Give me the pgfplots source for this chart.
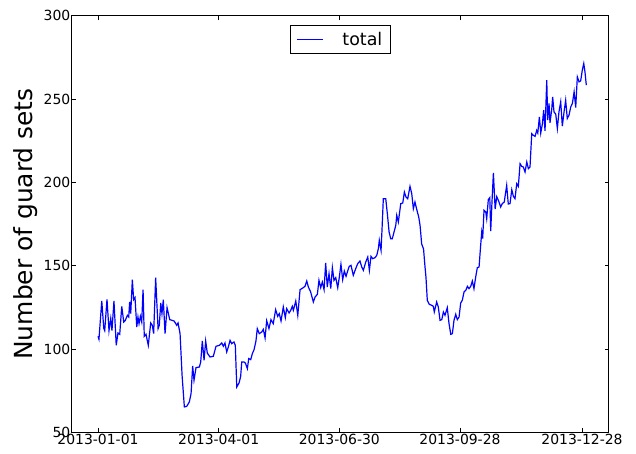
\documentclass[border=0pt]{standalone}
\usepackage{fontspec}
\setmainfont{DejaVu Sans}
\usepackage{pgfplots}
\usepackage{pgfplotstable}
\pgfplotsset{compat=1.18}

% day index (0 = 2013-01-01), number of guard sets
\pgfplotstableread{
day total
0.0 107.6
0.7 105.8
2.8 128.8
4.3 112.4
5.0 111.0
6.7 129.8
8.2 111.0
9.5 118.4
10.4 111.0
11.9 128.8
13.6 102.2
14.9 109.6
16.2 108.8
17.7 125.6
19.2 116.2
20.4 117.2
21.9 120.2
22.9 119.2
23.6 128.2
24.4 121.2
25.6 141.6
26.6 129.6
27.6 130.8
28.9 113.2
29.8 119.2
30.6 115.2
31.6 119.6
32.6 116.2
33.6 135.6
34.5 107.6
35.8 108.8
37.5 102.2
39.3 115.6
40.5 114.2
41.5 109.2
43.0 142.8
44.8 112.2
45.7 114.2
46.8 127.6
47.7 121.2
48.7 129.6
50.0 109.2
51.5 124.8
53.5 117.6
55.2 117.2
56.7 116.8
57.7 115.6
58.7 114.2
59.7 115.6
61.2 109.2
62.7 84.2
64.4 65.2
66.2 65.6
68.1 68.2
69.4 73.2
70.6 89.8
71.6 81.2
73.1 88.8
75.6 89.2
76.6 92.2
77.8 104.8
79.1 93.2
80.3 104.8
81.5 97.6
83.5 95.2
86.0 95.6
88.0 101.6
90.5 102.2
92.3 103.6
93.5 101.6
94.7 103.6
96.0 98.2
97.2 101.2
98.5 105.2
99.7 103.2
101.4 104.2
102.4 102.2
103.5 77.2
105.2 79.6
106.4 83.6
107.2 92.2
108.9 92.2
109.9 91.6
111.4 88.2
112.4 94.2
113.9 93.6
115.1 97.2
116.4 99.6
117.8 104.8
118.8 112.2
120.3 109.2
122.1 110.2
123.3 111.8
124.6 106.6
125.8 117.0
127.5 112.2
129.0 117.6
130.7 115.2
132.5 123.6
134.0 119.6
135.2 121.2
136.5 116.8
138.2 125.2
139.7 118.8
140.7 124.2
142.5 121.6
143.7 123.2
144.9 125.6
145.7 123.2
147.5 128.8
149.0 120.2
150.7 135.6
153.1 136.8
154.4 137.6
155.7 140.8
156.9 137.2
158.6 134.2
160.6 128.2
161.9 131.2
163.6 132.8
164.8 141.2
166.1 136.8
167.3 140.2
168.6 135.6
169.8 151.6
171.0 137.2
172.3 145.2
173.6 136.2
174.8 148.8
176.0 141.2
177.3 142.8
178.8 136.8
180.0 143.2
181.2 150.8
182.5 141.6
183.7 146.8
185.0 143.6
186.2 146.8
187.4 149.6
188.7 150.2
190.4 144.2
192.2 148.2
193.7 151.2
195.4 152.8
196.7 149.2
197.9 147.2
199.7 152.2
201.2 155.2
202.4 147.2
203.6 155.6
204.9 154.2
206.6 154.8
207.9 156.2
209.1 160.2
209.8 165.2
211.1 159.2
211.8 171.2
212.8 190.2
214.6 190.2
215.8 181.2
217.1 170.2
218.3 166.2
219.5 166.2
220.8 170.2
222.1 174.2
222.8 180.2
224.0 176.2
225.8 187.2
227.3 187.6
228.5 194.2
229.7 191.2
231.0 190.2
232.7 197.6
234.0 193.2
235.2 184.2
236.4 188.2
237.7 183.8
239.2 179.2
240.2 174.2
241.4 163.0
242.8 160.0
243.9 149.2
244.6 143.2
245.6 129.2
247.1 126.8
248.9 126.2
250.1 125.6
250.8 122.2
252.6 128.2
253.8 125.2
255.1 117.2
256.4 117.6
257.6 122.2
258.8 120.2
260.5 124.8
261.8 115.2
263.1 108.8
264.3 109.2
265.5 117.2
266.8 120.8
268.0 117.6
269.3 119.2
270.5 127.6
271.7 129.2
273.0 134.2
274.3 135.2
275.5 137.6
276.7 136.2
278.0 137.6
279.2 140.8
280.4 136.2
281.7 143.2
282.9 148.8
284.2 149.2
285.4 162.2
286.2 170.2
286.9 166.2
287.9 183.2
289.2 182.2
289.9 178.2
291.1 189.6
292.2 190.8
292.9 170.8
293.9 189.2
294.9 205.6
296.2 184.0
297.4 191.4
299.1 188.2
300.3 185.2
301.5 187.2
303.0 188.2
304.8 198.2
306.0 187.0
307.3 187.2
308.6 195.6
309.8 191.6
311.0 190.2
312.3 199.2
313.5 197.6
314.8 211.2
316.0 209.6
317.2 209.2
318.5 206.2
319.8 212.2
321.0 208.2
322.2 209.2
323.5 229.2
324.7 228.2
326.0 227.6
327.2 231.2
328.0 229.6
329.2 239.3
330.2 229.6
331.4 234.9
332.4 243.3
333.4 230.9
334.7 261.3
335.4 237.3
336.4 247.3
337.1 235.7
338.4 243.7
339.1 251.3
340.1 242.3
341.4 240.9
342.6 232.3
343.8 242.3
345.1 248.3
346.3 233.7
347.6 242.3
348.8 249.3
350.0 238.3
351.3 240.3
352.6 245.3
353.8 247.3
355.1 254.3
356.3 244.9
357.5 263.3
358.8 260.3
360.0 260.9
361.2 267.3
362.3 271.3
363.2 266.3
364.2 258.3
}\guardsets

\begin{document}
\begin{tikzpicture}
\useasboundingbox (-72bp,-21.7bp) rectangle (564bp,432.3bp);
\begin{axis}[
    scale only axis,
    width=536.7bp, height=416.6bp,
    xmin=-19.4, xmax=380.9,
    ymin=50, ymax=300,
    xtick={0,90,180,270,361},
    xticklabels={2013-01-01,2013-04-01,2013-06-30,2013-09-28,2013-12-28},
    ytick={50,100,150,200,250,300},
    tick align=inside,
    major tick length=4bp,
    minor tick num=0,
    axis line style={line width=1bp},
    every tick/.style={black, line width=0.8bp},
    tick label style={font=\fontsize{14}{16}\selectfont, inner sep=1.5bp},
    /pgf/number format/assume math mode=true,
    ylabel={Number of guard sets},
    ylabel style={at={(axis description cs:-0.0727,0.5)}, rotate=0, anchor=base,
        font=\fontsize{25}{30}\selectfont},
    legend style={at={(axis description cs:0.5,0.977)}, anchor=north,
        draw=black, line width=0.8bp, inner xsep=6bp, inner ysep=4.5bp,
        font=\fontsize{17.5}{20}\selectfont, column sep=17bp},
    legend image code/.code={\draw[#1, line width=1bp] (0bp,0bp) -- (26bp,0bp);},
]
\addplot[blue, line width=1.2bp] table[x=day, y=total] {\guardsets};
\addlegendentry{total}
\end{axis}
\end{tikzpicture}
\end{document}
